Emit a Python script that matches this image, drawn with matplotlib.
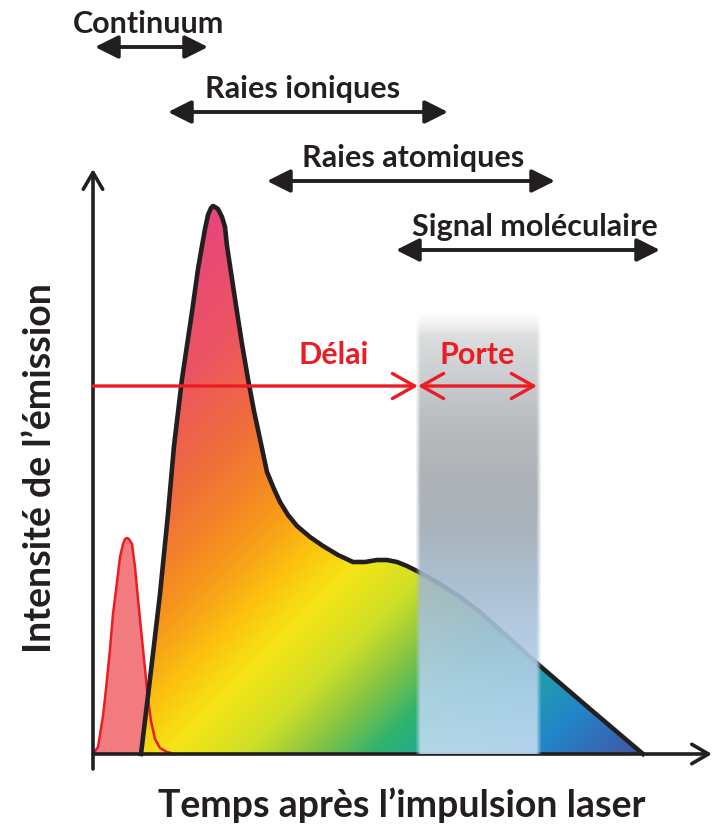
import numpy as np
import matplotlib.pyplot as plt
from matplotlib.colors import LinearSegmentedColormap, to_rgb
from matplotlib.patches import Polygon

# main emission curve (time, intensity), arbitrary units
main_t = [48, 57, 67, 75, 81, 89, 99, 105, 109, 112, 115, 118, 120, 122,
          125, 129, 132, 134, 139, 144, 149, 155, 161, 167, 174, 181, 187,
          195, 204, 217, 230, 245, 260, 272, 284, 294, 304, 314, 324, 347,
          367, 387, 417, 447, 497, 550]
main_I = [0, 75, 160, 240, 308, 375, 442, 485, 508, 525, 539, 546, 548, 547,
          545, 537, 527, 508, 475, 442, 410, 375, 343, 315, 282, 265, 252,
          239, 228, 217, 208, 199, 192, 192, 194, 194, 192, 188, 183, 170,
          157, 142, 115, 88, 45, 0]

# continuum pulse
cont_t = [0, 5, 10, 13, 17, 20, 24, 27, 30, 32, 34, 36, 39, 42, 45, 48, 50,
          53, 55, 58, 62, 67, 74, 82]
cont_I = [0, 7, 38, 65, 105, 140, 172, 197, 210, 215, 216, 215, 210, 187,
          155, 125, 105, 75, 55, 33, 15, 6, 2, 0]

# time windows of each emission regime
regimes = ['Continuum', 'Raies ioniques', 'Raies atomiques', 'Signal moléculaire']
reg_start = [2, 75, 174, 303]
reg_end = [115, 355, 462, 567]
reg_level = [707, 642, 573, 504]
reg_label_t = [56, 210, 320, 442]

# delay / gate
delay_end = 325
gate_end = 446
gate_top = 443
delay_level = 368

# gradient colour stops along the diagonal
grad_pos = [420, 560, 680, 780, 860, 920, 1000, 1060, 1130, 1200, 1290, 1390]
grad_col = ['#e8467d', '#ec5462', '#f07038', '#f7941d', '#fbc30f', '#f7e416',
            '#cfdf26', '#8dc641', '#2db36f', '#1fa5a0', '#2286c9', '#4059a8']

# gate colour stops (height -> colour)
gate_h = [0, 55, 115, 175, 225, 275, 335, 395, 443]
gate_col = ['#c4ddf1', '#b8d5ed', '#abc7e0', '#a3b8cb', '#a0abb5', '#a4a9ae',
            '#b3b6ba', '#cdd0d2', '#e2e3e4']

black = '#231f20'
red = '#ed1c24'
font = ['Lato', 'DejaVu Sans']

fig = plt.figure(figsize=(7.15, 8.28), dpi=100)
ax = fig.add_axes([0, 0, 1, 1])
ax.set_xlim(-93, 622)
ax.set_ylim(-73, 755)
ax.axis('off')

# continuum pulse fill
ax.fill_between(cont_t, cont_I, 0, color='#f27b80', lw=0, zorder=1)

# gradient fill of main curve
cmap = LinearSegmentedColormap.from_list(
    'plasma_grad',
    [((p - grad_pos[0]) / (grad_pos[-1] - grad_pos[0]), c) for p, c in zip(grad_pos, grad_col)])
tt, ii = np.meshgrid(np.linspace(40, 560, 400), np.linspace(0, 560, 400))
s = tt - ii + 848
img = ax.imshow(s, extent=[40, 560, 0, 560], origin='lower', cmap=cmap,
                vmin=grad_pos[0], vmax=grad_pos[-1], aspect='auto', zorder=2,
                interpolation='bilinear')
poly = Polygon(np.column_stack([main_t, main_I]), closed=True, fc='none', ec='none')
ax.add_patch(poly)
img.set_clip_path(poly)

ax.plot(cont_t, cont_I, color=red, lw=1.8, zorder=3, solid_joinstyle='round')
ax.plot(main_t, main_I, color=black, lw=3.3, zorder=4, solid_joinstyle='round')

# axes
ax.annotate('', xy=(0, 585), xytext=(0, -15),
            arrowprops=dict(arrowstyle='->,head_length=0.6,head_width=0.35',
                            lw=2.6, color=black, mutation_scale=20,
                            shrinkA=0, shrinkB=0), zorder=3)
ax.annotate('', xy=(619, 0), xytext=(0, 0),
            arrowprops=dict(arrowstyle='->,head_length=0.6,head_width=0.35',
                            lw=2.6, color=black, mutation_scale=20,
                            shrinkA=0, shrinkB=0), zorder=3)

# gate (blurred translucent band)
H, W = 300, 120
rows = np.linspace(0, gate_top, H)
rgb = np.array([to_rgb(c) for c in gate_col])
gate = np.zeros((H, W, 4))
for k in range(3):
    gate[:, :, k] = np.interp(rows, gate_h, rgb[:, k])[:, None]
cols = np.linspace(0, 1, W)
edge_x = np.clip(np.minimum(cols, 1 - cols) / 0.04, 0, 1)
edge_y = np.clip((gate_top - rows) / 25, 0, 1)
gate[:, :, 3] = 0.9 * edge_y[:, None] * edge_x[None, :]
ax.imshow(gate, extent=[delay_end - 3, gate_end + 3, 0, gate_top], origin='lower',
          aspect='auto', zorder=5, interpolation='bilinear')

# delay and gate arrows
ax.annotate('', xy=(delay_end, delay_level), xytext=(0, delay_level),
            arrowprops=dict(arrowstyle='->,head_length=0.8,head_width=0.45',
                            lw=2.4, color=red, mutation_scale=20,
                            shrinkA=0, shrinkB=0), zorder=6)
ax.annotate('', xy=(gate_end - 2, delay_level), xytext=(delay_end, delay_level),
            arrowprops=dict(arrowstyle='<->,head_length=0.8,head_width=0.45',
                            lw=2.4, color=red, mutation_scale=20,
                            shrinkA=0, shrinkB=0), zorder=6)
ax.text(241, delay_level + 32, 'Délai', color=red, fontsize=22, fontweight='bold',
        family=font, ha='center', va='center', zorder=7)
ax.text(384, delay_level + 32, 'Porte', color=red, fontsize=22, fontweight='bold',
        family=font, ha='center', va='center', zorder=7)

# regime windows
for name, t0, t1, lev, lt in zip(regimes, reg_start, reg_end, reg_level, reg_label_t):
    ax.annotate('', xy=(t1, lev), xytext=(t0, lev),
                arrowprops=dict(arrowstyle='<|-|>,head_length=0.7,head_width=0.35',
                                lw=2.8, color=black, mutation_scale=20,
                                shrinkA=0, shrinkB=0))
    ax.text(lt, lev + 24, name, color=black, fontsize=22, fontweight='bold',
            family=font, ha='center', va='center')

# axis titles
ax.text(309, -50, 'Temps après l’impulsion laser', color=black, fontsize=27,
        fontweight='bold', family=font, ha='center', va='center')
ax.text(-53, 287, 'Intensité de l’émission', color=black, fontsize=27,
        fontweight='bold', family=font, ha='center', va='center', rotation=90)

fig.savefig('out.png', dpi=100)
